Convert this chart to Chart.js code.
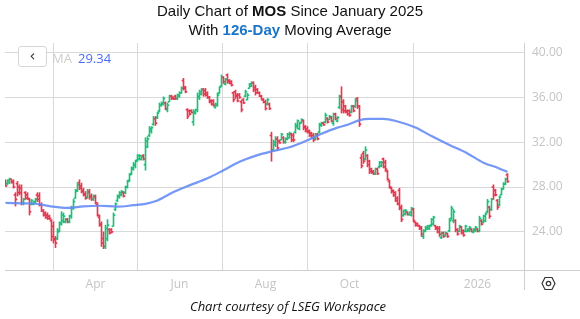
<!DOCTYPE html>
<html>
<head>
<meta charset="utf-8">
<script src="https://cdnjs.cloudflare.com/ajax/libs/Chart.js/4.4.1/chart.umd.min.js"></script>
<style>
  html, body { margin: 0; padding: 0; background: #fff; }
  #wrap { position: relative; width: 580px; height: 319px; overflow: hidden; }
  #chart { position: absolute; left: 0; top: 0; }
  .title { position: absolute; left: 0; width: 580px; text-align: center;
           font-family: "Liberation Sans", Arial, sans-serif; font-size: 15px; color: #111; line-height: 18px; }
  .title b.blue { color: #1a74c7; }
  .legend-btn { position: absolute; left: 18px; top: 46px; width: 27px; height: 19px;
                border: 1px solid #d6d6d6; border-radius: 3px; background: #fff;
                font: 15px "DejaVu Sans", sans-serif; color: #333; text-align: center; line-height: 18px; }
  .legend-txt { position: absolute; top: 49px; font: 13px "Open Sans", sans-serif; }
  .footer { position: absolute; left: 0; top: 297px; width: 576px; text-align: center;
            font: italic 13px "Open Sans", sans-serif; color: #111; }
  .gear { position: absolute; left: 541px; top: 276px; }
</style>
</head>
<body>
<div id="wrap">
  <canvas id="chart" width="580" height="319"></canvas>
  <div class="title" style="top:2px">Daily Chart of <b>MOS</b> Since January 2025</div>
  <div class="title" style="top:21px">With <b class="blue">126-Day</b> Moving Average</div>
  <div class="legend-btn">&#8249;</div>
  <div class="legend-txt" style="left:52px;color:#cdcdcd">MA</div>
  <div class="legend-txt" style="left:78px;color:#4a6ef5">29.34</div>
  <svg class="gear" width="15" height="15" viewBox="0 0 15 15">
    <polygon points="4,1.5 11,1.5 14,7.5 11,13.5 4,13.5 1,7.5" fill="none" stroke="#333" stroke-width="1.2"/>
    <circle cx="7.5" cy="7.5" r="2.2" fill="none" stroke="#333" stroke-width="1.2"/>
  </svg>
  <div class="footer">Chart courtesy of LSEG Workspace</div>
</div>
<script>
/* ── DATA (trading-day index 0 = 27 Jan 2025) ─────────────── */
const opens = [
  28.6, 28.3, 28.4, 28.7, 28.5, 27.3, 28.3, 28.0, 27.9, 26.6,
  27.5, 27.3, 26.9, 26.5, 26.5, 26.7, 27.3, 27.2, 26.4, 25.9,
  25.7, 25.5, 25.4, 25.0, 24.5, 23.4, 23.4, 24.1, 24.8, 25.0,
  24.9, 25.1, 24.9, 25.4, 26.1, 27.0, 27.7, 28.4, 28.1, 27.7,
  27.4, 27.1, 27.6, 27.2, 26.9, 27.1, 26.4, 25.3, 24.6, 23.4,
  22.7, 23.4, 24.2, 24.2, 24.5, 26.0, 26.8, 27.1, 27.3, 27.5,
  27.5, 28.0, 28.6, 29.2, 29.6, 29.9, 30.4, 30.5, 30.5, 30.8,
  30.0, 31.6, 32.6, 33.0, 33.6, 34.1, 34.2, 34.8, 35.3, 35.4,
  35.5, 34.9, 35.6, 36.1, 36.0, 36.1, 35.9, 36.1, 36.4, 37.5,
  36.9, 34.9, 34.8, 34.8, 33.8, 34.6, 34.9, 36.0, 36.3, 36.7,
  36.6, 36.4, 36.0, 35.7, 35.7, 35.1, 35.3, 36.4, 37.0, 37.8,
  37.2, 38.0, 37.5, 37.4, 36.4, 36.5, 36.2, 36.2, 35.6, 35.8,
  36.1, 35.8, 36.8, 37.0, 37.3, 36.9, 36.7, 36.4, 36.1, 35.8,
  35.6, 35.4, 35.4, 32.6, 31.3, 31.8, 32.3, 32.1, 32.2, 32.4,
  32.0, 32.3, 32.4, 32.7, 32.6, 32.9, 33.4, 33.2, 33.7, 33.9,
  33.4, 33.2, 33.0, 32.8, 32.6, 32.3, 32.7, 32.9, 33.5, 33.7,
  33.8, 34.1, 34.0, 34.2, 33.7, 34.5, 33.9, 35.1, 36.1, 35.6,
  35.2, 34.8, 34.8, 34.7, 35.2, 35.2, 35.9, 35.2, 30.6, 31.0,
  30.5, 30.8, 30.3, 29.6, 29.4, 29.2, 29.6, 29.8, 29.9, 30.5,
  30.2, 29.4, 28.5, 27.9, 27.7, 27.5, 27.0, 27.7, 26.2, 25.45,
  25.6, 25.75, 25.55, 25.5, 26.0, 24.85, 24.75, 24.55, 24.4, 23.6,
  24.05, 24.25, 24.3, 24.6, 24.7, 24.55, 24.4, 24.3, 23.5, 23.9,
  23.65, 23.85, 24.1, 25.2, 25.0, 25.0, 24.2, 24.05, 24.4, 24.1,
  24.05, 24.05, 24.1, 24.25, 24.0, 24.1, 24.25, 24.1, 25.0, 24.9,
  25.0, 25.8, 26.2, 26.0, 28.0, 27.7, 26.8, 26.4, 27.3, 27.85,
  28.25, 29.1
];
const highs = [
  28.65, 28.65, 28.8, 28.7, 28.65, 27.5, 28.5, 28.2, 28.2, 27.0,
  27.6, 27.5, 27.0, 26.9, 26.7, 27.0, 27.5, 27.5, 26.6, 26.0,
  25.8, 25.7, 25.5, 25.1, 24.9, 23.6, 24.3, 24.9, 25.8, 25.7,
  25.2, 25.2, 25.5, 26.3, 26.9, 27.8, 28.4, 28.65, 28.35, 27.9,
  27.6, 27.8, 27.8, 27.4, 27.3, 27.3, 26.6, 25.5, 24.9, 24.0,
  24.6, 25.1, 24.3, 24.3, 25.7, 26.6, 27.3, 27.6, 27.7, 27.6,
  28.1, 28.6, 29.2, 29.8, 30.2, 30.4, 30.9, 30.9, 30.8, 30.9,
  32.4, 32.5, 33.4, 33.4, 34.3, 34.3, 34.7, 35.5, 35.6, 36.05,
  35.6, 35.5, 36.2, 36.2, 36.05, 36.2, 36.3, 36.5, 36.95, 37.7,
  37.0, 35.0, 34.9, 34.9, 34.9, 34.95, 36.4, 36.65, 36.8, 36.8,
  36.8, 36.5, 36.1, 35.8, 35.8, 35.5, 36.4, 36.95, 38.0, 37.85,
  37.7, 38.1, 37.6, 37.5, 36.5, 36.65, 36.35, 36.35, 35.76, 35.9,
  36.65, 36.35, 37.25, 37.4, 37.4, 37.1, 36.8, 36.5, 36.2, 35.9,
  35.76, 35.9, 35.5, 32.9, 32.2, 32.5, 32.5, 32.2, 32.8, 32.5,
  32.4, 32.8, 32.9, 32.8, 32.8, 33.7, 34.0, 33.8, 34.1, 34.0,
  33.5, 33.4, 33.1, 32.9, 32.8, 32.8, 32.8, 33.7, 33.8, 33.8,
  34.6, 34.2, 34.4, 34.3, 34.6, 34.6, 34.3, 36.2, 36.95, 35.8,
  35.3, 34.9, 34.9, 35.3, 35.3, 35.9, 36.0, 35.3, 30.9, 31.2,
  31.6, 30.9, 30.4, 29.7, 29.5, 29.7, 29.7, 30.3, 30.3, 30.6,
  30.4, 29.5, 28.6, 28.0, 27.75, 27.6, 27.15, 27.9, 26.4, 25.96,
  26.0, 25.8, 25.8, 26.2, 26.1, 24.9, 24.8, 24.6, 24.5, 24.2,
  24.5, 24.6, 24.6, 25.2, 25.4, 24.6, 24.5, 24.5, 24.0, 24.0,
  24.0, 23.9, 25.2, 26.3, 26.0, 25.1, 24.3, 24.6, 24.5, 24.2,
  24.6, 24.3, 24.5, 24.3, 24.3, 24.5, 24.3, 25.4, 25.1, 25.5,
  25.7, 26.9, 26.3, 27.0, 28.2, 27.8, 26.9, 27.2, 27.9, 28.4,
  28.8, 29.2
];
const lows = [
  28.05, 28.2, 28.3, 28.35, 27.9, 26.3, 27.2, 27.3, 26.4, 26.4,
  26.9, 26.9, 25.5, 26.4, 26.4, 26.6, 26.7, 26.3, 25.8, 25.4,
  25.2, 25.1, 25.1, 23.2, 23.0, 22.6, 23.3, 24.0, 24.6, 24.8,
  24.8, 24.8, 24.8, 25.2, 26.0, 27.0, 27.6, 27.76, 27.47, 27.2,
  26.9, 27.0, 26.9, 26.8, 26.8, 26.5, 25.4, 24.5, 22.7, 22.5,
  22.5, 23.2, 23.8, 23.9, 24.5, 25.9, 26.7, 27.0, 27.2, 27.1,
  27.4, 27.9, 28.5, 29.1, 29.5, 29.7, 30.3, 30.4, 30.4, 30.4,
  29.5, 31.5, 32.5, 32.8, 33.5, 33.5, 34.1, 34.7, 35.2, 35.3,
  34.9, 34.7, 35.6, 35.8, 35.8, 35.8, 35.8, 36.0, 36.35, 36.65,
  36.4, 34.1, 34.4, 34.6, 33.5, 34.5, 34.7, 35.8, 36.2, 36.1,
  36.1, 35.9, 35.5, 35.3, 35.2, 35.05, 35.2, 36.35, 36.95, 37.25,
  37.1, 37.25, 37.2, 37.0, 35.6, 35.9, 35.6, 35.9, 34.7, 35.45,
  36.06, 35.76, 36.8, 36.95, 36.5, 36.2, 36.35, 36.06, 35.76, 35.5,
  34.87, 35.3, 34.9, 30.3, 31.2, 31.6, 31.3, 31.9, 32.2, 31.9,
  31.9, 32.2, 32.35, 32.05, 32.05, 32.8, 33.2, 33.1, 33.7, 33.1,
  32.9, 32.8, 32.5, 32.35, 32.05, 32.2, 32.2, 32.8, 33.4, 33.5,
  33.7, 33.7, 34.0, 33.8, 33.5, 34.0, 33.8, 35.0, 34.6, 34.6,
  34.6, 34.4, 34.3, 34.6, 34.7, 35.1, 35.0, 33.4, 29.7, 30.1,
  30.4, 29.8, 29.2, 29.2, 29.1, 29.1, 29.1, 29.7, 29.8, 29.7,
  29.4, 28.6, 27.9, 27.45, 27.15, 26.7, 26.4, 25.96, 24.9, 25.4,
  25.5, 25.5, 25.5, 25.4, 24.9, 24.5, 24.5, 24.2, 23.6, 23.4,
  24.0, 24.2, 24.2, 24.5, 24.6, 24.2, 23.9, 23.6, 23.4, 23.5,
  23.6, 23.5, 24.0, 25.1, 24.8, 24.0, 23.7, 24.0, 23.8, 23.6,
  24.0, 24.0, 24.0, 24.0, 23.9, 24.0, 24.0, 24.0, 24.6, 24.8,
  24.9, 25.7, 25.2, 25.9, 26.9, 27.2, 26.0, 26.3, 27.3, 27.8,
  28.2, 28.4
];
const closes = [
  28.1, 28.6, 28.7, 28.4, 28.0, 26.9, 27.5, 27.5, 26.6, 26.9,
  27.0, 27.0, 25.8, 26.8, 26.7, 26.9, 26.9, 26.4, 25.9, 25.5,
  25.3, 25.2, 25.2, 23.6, 23.3, 23.0, 24.0, 24.7, 25.5, 25.4,
  25.1, 24.9, 25.4, 26.1, 26.7, 27.6, 28.2, 27.9, 27.6, 27.3,
  27.0, 27.5, 27.1, 26.9, 27.2, 26.6, 25.5, 24.7, 23.0, 22.7,
  24.3, 24.6, 23.9, 24.0, 25.5, 26.5, 27.2, 27.5, 27.6, 27.2,
  28.0, 28.5, 29.1, 29.7, 30.0, 30.3, 30.8, 30.8, 30.7, 30.5,
  32.1, 32.3, 33.2, 33.3, 34.1, 33.7, 34.6, 35.3, 35.5, 35.9,
  35.0, 35.3, 36.1, 35.9, 35.85, 35.9, 36.2, 36.4, 36.8, 36.8,
  36.5, 34.3, 34.5, 34.65, 34.7, 34.9, 36.1, 36.5, 36.7, 36.3,
  36.2, 36.0, 35.6, 35.4, 35.3, 35.4, 36.2, 36.9, 37.8, 37.4,
  37.6, 37.4, 37.25, 37.1, 35.8, 36.1, 35.7, 36.0, 34.9, 35.5,
  36.5, 36.2, 37.2, 37.3, 36.7, 36.4, 36.4, 36.1, 35.8, 35.6,
  35.0, 35.8, 35.0, 31.3, 32.0, 32.3, 31.5, 31.95, 32.7, 32.0,
  32.3, 32.7, 32.8, 32.2, 32.2, 33.5, 33.9, 33.7, 34.0, 33.3,
  33.0, 32.9, 32.6, 32.4, 32.2, 32.7, 32.3, 33.6, 33.7, 33.55,
  34.4, 33.8, 34.3, 33.9, 34.5, 34.1, 34.2, 36.0, 34.9, 34.8,
  34.7, 34.5, 34.4, 35.2, 34.8, 35.7, 35.2, 33.6, 29.9, 30.3,
  31.3, 30.0, 29.4, 29.3, 29.2, 29.6, 29.2, 30.2, 30.2, 29.8,
  29.6, 28.7, 28.0, 27.6, 27.3, 26.8, 26.5, 26.1, 25.1, 25.9,
  25.9, 25.55, 25.75, 26.1, 25.0, 24.6, 24.55, 24.3, 23.8, 24.1,
  24.4, 24.5, 24.55, 25.1, 25.3, 24.3, 24.0, 23.8, 23.9, 23.6,
  23.9, 23.6, 25.0, 26.1, 25.8, 24.2, 23.8, 24.5, 23.9, 23.7,
  24.5, 24.25, 24.4, 24.05, 24.25, 24.4, 24.05, 25.2, 24.7, 25.4,
  25.6, 26.7, 25.4, 26.9, 27.3, 27.3, 26.2, 27.1, 27.8, 28.3,
  28.7, 28.5
];

// 126-day moving average at these bar indices
const maIndex  = [0, 14, 22, 31, 39, 47, 56, 64, 70, 76, 84, 92, 101, 109, 117, 126,
                  134, 142, 150, 158, 166, 171, 177, 182, 189, 196, 205, 213, 222, 231, 239, 246, 251];
const maValues = [26.58, 26.53, 26.3, 26.14, 26.28, 26.33, 26.25, 26.38, 26.5, 26.8, 27.55, 28.15,
                  28.78, 29.5, 30.25, 30.85, 31.22, 31.55, 32.1, 32.75, 33.3, 33.55, 33.97, 34.08,
                  34.08, 33.85, 33.32, 32.55, 31.75, 31.0, 30.17, 29.72, 29.34];

const monthTicks  = [45, 87, 130, 172, 236];
const monthLabels = ['Apr', 'Jun', 'Aug', 'Oct', '2026'];
const priceTicks  = [24, 28, 32, 36, 40];

/* ── COLOURS ──────────────────────────────────────────────── */
const UP   = '#1fbf7a';
const DOWN = '#e5394f';
const GRID = '#d9d9d9';
const TICK_HALF = 0.045;   // half height of the open / close ticks (≈1px)

const barColors = closes.map((c, i) => c >= opens[i] ? UP : DOWN);

const hlData    = highs.map((h, i) => ({ x: i, y: [lows[i], h] }));
const openData  = opens.map((o, i) => ({ x: i - 0.5, y: [o - TICK_HALF, o + TICK_HALF] }));
const closeData = closes.map((c, i) => ({ x: i + 0.5, y: [c - TICK_HALF, c + TICK_HALF] }));
const maData    = maIndex.map((x, i) => ({ x, y: maValues[i] }));

const barBase = { type: 'bar', barThickness: 1, grouped: false, order: 1, borderWidth: 0,
                  backgroundColor: barColors };

/* ── EXTRA AXIS LINES ─────────────────────────────────────── */
const frameLines = {
  id: 'frameLines',
  afterDraw(chart) {
    const { ctx, chartArea: a } = chart;
    ctx.save();
    ctx.strokeStyle = '#cfcfcf';
    ctx.lineWidth = 1;
    ctx.beginPath();
    ctx.moveTo(a.left, Math.round(a.bottom) + 0.5);
    ctx.lineTo(chart.width, Math.round(a.bottom) + 0.5);
    ctx.moveTo(Math.round(a.right) + 0.5, a.top);
    ctx.lineTo(Math.round(a.right) + 0.5, 290);
    ctx.stroke();
    ctx.restore();
  }
};

new Chart(document.getElementById('chart'), {
  type: 'bar',
  data: {
    datasets: [
      { type: 'line', data: maData, borderColor: 'rgba(98,137,246,0.88)', borderWidth: 2.2,
        pointRadius: 0, tension: 0.4, cubicInterpolationMode: 'monotone', order: 0 },
      { ...barBase, data: hlData },
      { ...barBase, data: openData },
      { ...barBase, data: closeData },
    ]
  },
  options: {
    responsive: false,
    animation : false,
    layout    : { padding: { left: 5, top: 43, right: 0, bottom: 0 } },
    scales: {
      x: {
        type  : 'linear',
        min   : -0.25,
        max   : 259.25,
        offset: false,
        afterBuildTicks: s => { s.ticks = monthTicks.map(v => ({ value: v })); },
        afterFit: s => { s.height = 49; },
        grid  : { color: GRID, drawTicks: false },
        border: { display: false },
        ticks : { padding: 7, color: '#c4c4c4', maxRotation: 0, autoSkip: false,
                  font: { family: 'Open Sans', size: 12 },
                  callback: (v, i) => monthLabels[i] }
      },
      y: {
        position: 'right',
        min: 20.6,
        max: 40.85,
        afterBuildTicks: s => { s.ticks = priceTicks.map(v => ({ value: v })); },
        afterFit: s => { s.width = 56; },
        grid  : { color: GRID, drawTicks: false },
        border: { display: false },
        ticks : { padding: 8, color: '#c4c4c4', font: { family: 'Open Sans', size: 12 },
                  callback: v => v.toFixed(2) }
      }
    },
    plugins: { legend: { display: false }, tooltip: { enabled: false } }
  },
  plugins: [frameLines]
});
</script>
</body>
</html>
